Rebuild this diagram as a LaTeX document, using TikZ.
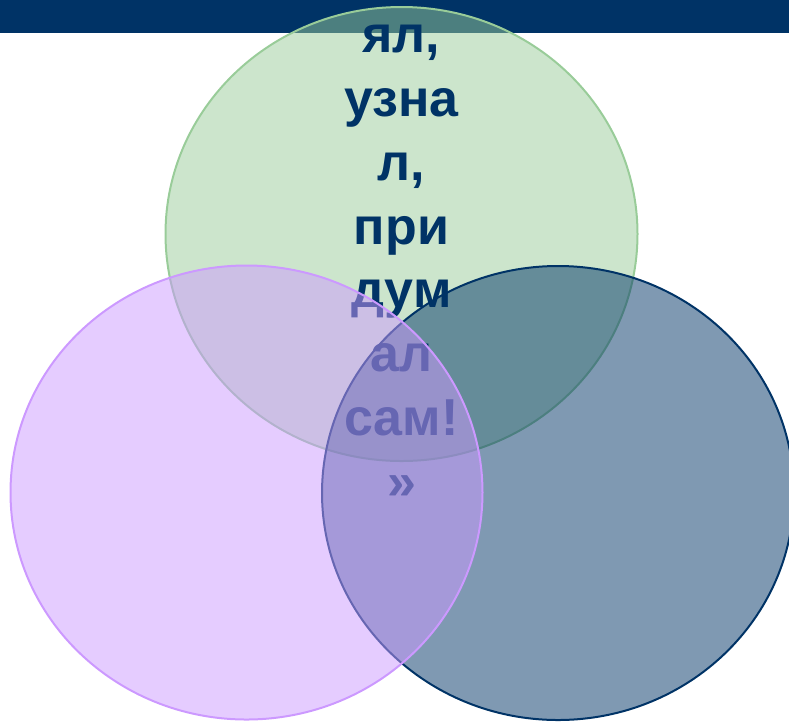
\documentclass[tikz,border=0pt]{standalone}
\usepackage{fontspec}
\setmainfont{Liberation Sans}
\usepackage{xcolor}
\usepackage{tikz}
\definecolor{bar}{HTML}{003366}
\definecolor{leaf}{HTML}{99CC99}
\definecolor{lilac}{HTML}{CC99FF}
\definecolor{navy}{HTML}{003366}
\tikzset{
  vennGreen/.style={draw=leaf, line width=2pt, fill=leaf, fill opacity=0.5},
  vennLilac/.style={draw=lilac, line width=2pt, fill=lilac, fill opacity=0.5},
  vennNavy/.style={draw=navy, line width=2pt, fill=navy, fill opacity=0.5},
  vennText/.style={text=navy, font=\bfseries\fontsize{52}{63.8}\selectfont, align=center, inner sep=0pt}
}

\begin{document}
\begin{tikzpicture}[x=1pt, y=-1pt]
  \useasboundingbox (0,0) rectangle (789,721);
  \fill[bar] (0,0) rectangle (789,33);

  \def\rx{236}
  \def\ry{227}
  \coordinate (G) at (401.5,234);
  \coordinate (L) at (246.5,492.5);
  \coordinate (R) at (558,493);

  \draw[vennGreen] (G) ellipse ({\rx} and {\ry});
  \draw[vennNavy] (R) ellipse ({\rx} and {\ry});

  \node[vennText, anchor=north] (quote) at (401.5,25)
    {ял,\\узна\\л,\\при\\дум\\ал\\сам!\\»};

  \draw[vennLilac] (L) ellipse ({\rx} and {\ry});
\end{tikzpicture}
\end{document}
